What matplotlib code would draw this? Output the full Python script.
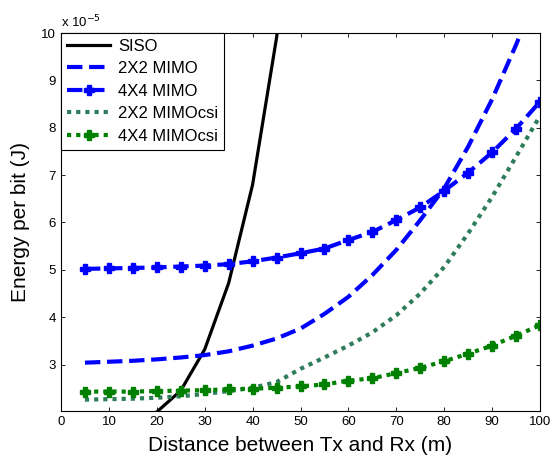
import numpy as np
import matplotlib.pyplot as plt

plt.rcParams.update(
    {
        "font.family": ["Liberation Sans", "DejaVu Sans"],
        "xtick.direction": "in",
        "ytick.direction": "in",
        "xtick.top": True,
        "ytick.right": True,
        "xtick.labelsize": 9.5,
        "ytick.labelsize": 9.5,
        "axes.labelsize": 15,
    }
)

# distances (m)
dist = [5, 10, 15, 20, 25, 30, 35, 40, 45, 50, 55, 60, 65, 70, 75, 80, 85, 90, 95, 100]

# energy per bit, in units of 1e-5 J
siso = [1.55, 1.6, 1.7, 2.0, 2.45, 3.32, 4.72, 6.8, 9.9, 14.0, 19.5, 26.5, 35.0, 45.0,
        57.0, 71.0, 87.0, 105.0, 126.0, 150.0]
mimo_2x2 = [3.04, 3.06, 3.08, 3.11, 3.15, 3.2, 3.28, 3.4, 3.55, 3.76, 4.07, 4.43, 4.89,
            5.42, 6.05, 6.72, 7.6, 8.6, 9.75, 11.0]
mimo_4x4 = [5.02, 5.03, 5.04, 5.05, 5.07, 5.09, 5.12, 5.18, 5.26, 5.35, 5.45, 5.63, 5.8,
            6.05, 6.32, 6.67, 7.05, 7.48, 7.98, 8.55]
csi_2x2 = [2.26, 2.27, 2.28, 2.3, 2.33, 2.38, 2.44, 2.51, 2.63, 2.91, 3.15, 3.4, 3.68,
           4.04, 4.5, 5.06, 5.77, 6.54, 7.39, 8.25]
csi_4x4 = [2.43, 2.43, 2.43, 2.44, 2.45, 2.46, 2.48, 2.49, 2.51, 2.54, 2.58, 2.66, 2.71,
           2.82, 2.93, 3.07, 3.23, 3.4, 3.61, 3.83]

fig = plt.figure(figsize=(5.57, 4.57), dpi=100)
ax = fig.add_axes([61 / 557, 46 / 457, 479 / 557, 378 / 457])

ax.plot(dist, siso, color="black", lw=2.3, label="SISO")
ax.plot(dist, mimo_2x2, color="#0000ff", lw=3, linestyle="--", label="2X2 MIMO")
ax.plot(dist, mimo_4x4, color="#0000ff", lw=3, linestyle="--", marker="P",
        markersize=6.5, label="4X4 MIMO")
ax.plot(dist, csi_2x2, color="#2e7d5a", lw=3, linestyle=(0, (1, 1.2)),
        label="2X2 MIMOcsi")
ax.plot(dist, csi_4x4, color="#008000", lw=3, linestyle=(0, (1, 1.2)), marker="P",
        markersize=6.5, label="4X4 MIMOcsi")

ax.set_xlim(0, 100)
ax.set_ylim(2.02, 10)
ax.set_xticks(np.arange(0, 101, 10))
ax.set_yticks(np.arange(3, 11, 1))
ax.tick_params(length=3, width=0.6)
for s in ax.spines.values():
    s.set_linewidth(0.8)

ax.set_xlabel("Distance between Tx and Rx (m)", labelpad=6)
ax.set_ylabel("Energy per bit (J)", labelpad=8)
ax.text(0, 1.008, r"x 10$^{-5}$", transform=ax.transAxes, fontsize=9.5,
        ha="left", va="bottom")

leg = ax.legend(loc="upper left", fontsize=12, borderaxespad=0, fancybox=False,
                framealpha=1, edgecolor="black", handlelength=2.6,
                labelspacing=0.45, borderpad=0.35, handletextpad=0.5)
leg.get_frame().set_linewidth(0.8)

fig.savefig("out.png", dpi=100)
